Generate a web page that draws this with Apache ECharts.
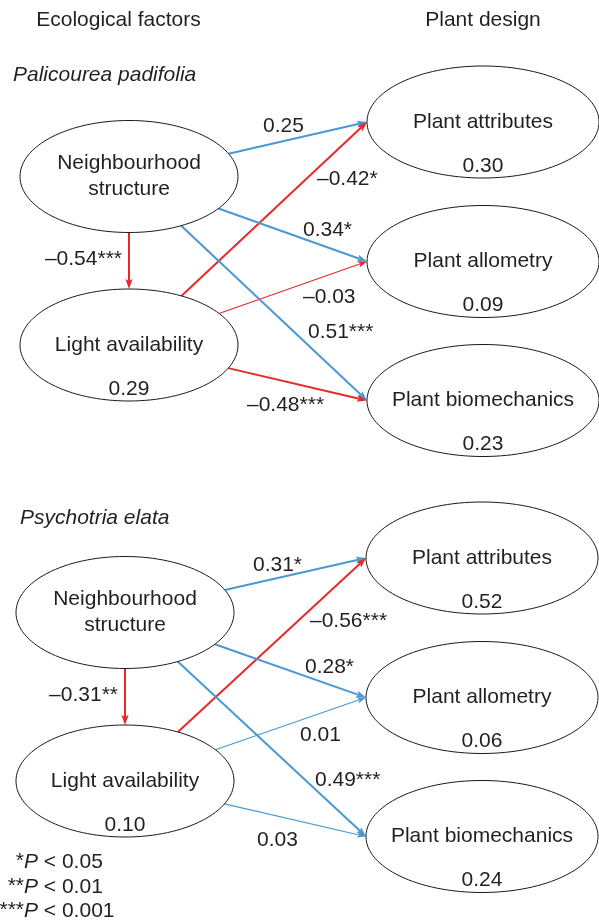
<!DOCTYPE html>
<html>
<head>
<meta charset="utf-8">
<script src="https://cdn.jsdelivr.net/npm/echarts@6/dist/echarts.min.js"></script>
<style>
  html, body { margin: 0; padding: 0; background: #ffffff; }
  #chart { width: 599px; height: 921px; }
</style>
</head>
<body>
<div id="chart"></div>
<script>
// Two structural-equation path diagrams, one per species
const species = ['Palicourea padifolia', 'Psychotria elata'];
const columnTitles = ['Ecological factors', 'Plant design'];
const factorNames = ['Neighbourhood\nstructure', 'Light availability'];
const designNames = ['Plant attributes', 'Plant allometry', 'Plant biomechanics'];

// Explained variance (R²) of the endogenous variables
const r2Light = [0.29, 0.10];
const r2Design = [[0.30, 0.09, 0.23], [0.52, 0.06, 0.24]];

// Standardised path coefficients and significance stars
const nsToLight = [-0.54, -0.31];
const nsToLightSig = ['***', '**'];
const nsToDesign = [[0.25, 0.34, 0.51], [0.31, 0.28, 0.49]];
const nsToDesignSig = [['', '*', '***'], ['*', '*', '***']];
const lightToDesign = [[-0.42, -0.03, -0.48], [-0.56, 0.01, 0.03]];
const lightToDesignSig = [['*', '', '***'], ['***', '', '']];

// Significance key
const sigStars = ['*', '**', '***'];
const sigLevels = ['0.05', '0.01', '0.001'];

// ---- drawing layout (pixel space of the hidden axes) ----
const W = 599, H = 921;
const layout = {
  panelDy: [0, 436],
  leftX: [129, 125],
  rightX: [483, 482],
  factorY: [176.5, 345],
  designY: [122, 261.5, 400.5],
  factorR: [109, 56],
  designR: [116, 56],
  r2Dy: 44,
  // label anchors: [left x, middle y] relative to the panel
  nsLabel: [[[263, 126], [303, 230], [308, 332]], [[253, 129], [305, 231], [315, 344]]],
  lightLabel: [[[317, 179], [303, 297], [247, 405]], [[310, 185], [300, 299], [257, 404]]],
  nsLightLabelY: 259,
  nsLightLabelGap: 7
};

const FONT = '"Liberation Sans", Arial, Helvetica, sans-serif';
const TEXT = '#231f20';
const POS = '#4a98d4';
const NEG = '#e8282b';

function fmtCoef(v, sig) {
  return (v < 0 ? '\u2013' : '') + Math.abs(v).toFixed(2) + sig;
}

// Nodes: ellipses with names and R² values
const nodes = [];
species.forEach(function (sp, p) {
  const dy = layout.panelDy[p];
  nodes.push({ c: [layout.leftX[p], layout.factorY[0] + dy], r: layout.factorR, name: factorNames[0], r2: null });
  nodes.push({ c: [layout.leftX[p], layout.factorY[1] + dy], r: layout.factorR, name: factorNames[1], r2: r2Light[p] });
  designNames.forEach(function (nm, j) {
    nodes.push({ c: [layout.rightX[p], layout.designY[j] + dy], r: layout.designR, name: nm, r2: r2Design[p][j] });
  });
});

// Edges: arrows from a source node toward the left tip of the target node
const edges = [];
species.forEach(function (sp, p) {
  const dy = layout.panelDy[p];
  const ns = [layout.leftX[p], layout.factorY[0] + dy];
  const la = [layout.leftX[p], layout.factorY[1] + dy];
  edges.push({
    src: ns, srcR: layout.factorR,
    tip: [la[0], la[1] - layout.factorR[1]],
    coef: nsToLight[p], sig: nsToLightSig[p],
    label: [layout.leftX[p] - layout.nsLightLabelGap, layout.nsLightLabelY + dy], align: 'right'
  });
  designNames.forEach(function (nm, j) {
    const tip = [layout.rightX[p] - layout.designR[0], layout.designY[j] + dy];
    edges.push({
      src: ns, srcR: layout.factorR, tip: tip,
      coef: nsToDesign[p][j], sig: nsToDesignSig[p][j],
      label: [layout.nsLabel[p][j][0], layout.nsLabel[p][j][1] + dy], align: 'left'
    });
    edges.push({
      src: la, srcR: layout.factorR, tip: tip,
      coef: lightToDesign[p][j], sig: lightToDesignSig[p][j],
      label: [layout.lightLabel[p][j][0], layout.lightLabel[p][j][1] + dy], align: 'left'
    });
  });
});

function renderNode(params, api) {
  const n = nodes[params.dataIndex];
  const c = api.coord(n.c);
  const r = api.size([n.r[0], n.r[1]]);
  const children = [
    { type: 'ellipse', shape: { cx: c[0], cy: c[1], rx: r[0], ry: r[1] },
      style: { fill: '#ffffff', stroke: '#1a1a1a', lineWidth: 1 } },
    { type: 'text', x: c[0], y: c[1],
      style: { text: n.name, font: '21px ' + FONT, fill: TEXT, align: 'center',
               verticalAlign: 'middle', lineHeight: 26 } }
  ];
  if (n.r2 !== null) {
    const v = api.coord([n.c[0], n.c[1] + layout.r2Dy]);
    children.push({ type: 'text', x: v[0], y: v[1],
      style: { text: n.r2.toFixed(2), font: '21px ' + FONT, fill: TEXT,
               align: 'center', verticalAlign: 'middle' } });
  }
  return { type: 'group', children: children };
}

function renderEdge(params, api) {
  const e = edges[params.dataIndex];
  const c = api.coord(e.src);
  const t = api.coord(e.tip);
  const r = api.size([e.srcR[0], e.srcR[1]]);
  const dx = t[0] - c[0], dy = t[1] - c[1];
  const k = 1 / Math.sqrt((dx / r[0]) * (dx / r[0]) + (dy / r[1]) * (dy / r[1]));
  const s = [c[0] + k * dx, c[1] + k * dy];
  const len = Math.sqrt(dx * dx + dy * dy);
  const ux = dx / len, uy = dy / len;
  const strong = Math.abs(e.coef) >= 0.1;
  const color = e.coef < 0 ? NEG : POS;
  const head = strong ? 10 : 9, half = strong ? 3.6 : 3.2;
  const base = [t[0] - ux * head, t[1] - uy * head];
  const notch = [t[0] - ux * (head - 2), t[1] - uy * (head - 2)];
  const lp = api.coord(e.label);
  return {
    type: 'group',
    children: [
      { type: 'line', shape: { x1: s[0], y1: s[1], x2: notch[0], y2: notch[1] },
        style: { stroke: color, lineWidth: strong ? 2 : 1.1 } },
      { type: 'polygon',
        shape: { points: [t, [base[0] - uy * half, base[1] + ux * half], notch,
                          [base[0] + uy * half, base[1] - ux * half]] },
        style: { fill: color } },
      { type: 'text', x: lp[0], y: lp[1],
        style: { text: fmtCoef(e.coef, e.sig), font: '21px ' + FONT, fill: TEXT,
                 align: e.align, verticalAlign: 'middle' } }
    ]
  };
}

// Static texts: column headings, species names and significance key
const graphics = [
  { type: 'text', x: 118.5, y: 20, style: { text: columnTitles[0], font: '21px ' + FONT, fill: TEXT, align: 'center', verticalAlign: 'middle' } },
  { type: 'text', x: 483, y: 20, style: { text: columnTitles[1], font: '21px ' + FONT, fill: TEXT, align: 'center', verticalAlign: 'middle' } },
  { type: 'text', x: 13, y: 75, style: { text: species[0], font: 'italic 21px ' + FONT, fill: TEXT, align: 'left', verticalAlign: 'middle' } },
  { type: 'text', x: 20, y: 518, style: { text: species[1], font: 'italic 21px ' + FONT, fill: TEXT, align: 'left', verticalAlign: 'middle' } }
];
const keyY = [862, 887, 911];
sigStars.forEach(function (st, i) {
  graphics.push({ type: 'text', x: 24, y: keyY[i] - 1,
    style: { text: st, font: '21px ' + FONT, fill: TEXT, align: 'right', verticalAlign: 'middle' } });
  graphics.push({ type: 'text', x: 24, y: keyY[i],
    style: { text: '{i|P} < ' + sigLevels[i], font: '21px ' + FONT, fill: TEXT, align: 'left', verticalAlign: 'middle',
             rich: { i: { font: 'italic 21px ' + FONT, fill: TEXT } } } });
});

const chart = echarts.init(document.getElementById('chart'), null, { renderer: 'canvas' });
chart.setOption({
  animation: false,
  backgroundColor: '#ffffff',
  grid: { left: 0, right: 0, top: 0, bottom: 0 },
  xAxis: { type: 'value', min: 0, max: W, show: false },
  yAxis: { type: 'value', min: 0, max: H, inverse: true, show: false },
  graphic: graphics,
  series: [
    {
      type: 'custom', name: 'paths', coordinateSystem: 'cartesian2d',
      renderItem: renderEdge, clip: false, z: 2,
      data: edges.map(function (e) { return [e.coef]; })
    },
    {
      type: 'custom', name: 'variables', coordinateSystem: 'cartesian2d',
      renderItem: renderNode, clip: false, z: 3,
      data: nodes.map(function (n) { return [n.r2 === null ? 0 : n.r2]; })
    }
  ]
});
</script>
</body>
</html>
